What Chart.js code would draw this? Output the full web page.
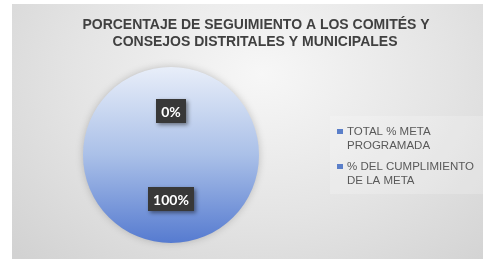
<!DOCTYPE html>
<html>
<head>
<meta charset="utf-8">
<script src="https://cdn.jsdelivr.net/npm/chart.js@4.4.1/dist/chart.umd.min.js"></script>
<style>
  html, body { margin: 0; padding: 0; background: #fff; }
  #wrap {
    position: absolute; left: 12px; top: 4px; width: 471px; height: 255px;
    background: radial-gradient(ellipse 340px 260px at 250px 70px, #f7f7f7 0%, #e4e4e4 55%, #d2d2d2 100%);
  }
  canvas { display: block; }
</style>
</head>
<body>
<div id="wrap"><canvas id="pieChart" width="471" height="255"></canvas></div>
<script>
// ---- data ----
const titleLines = ['PORCENTAJE DE SEGUIMIENTO A LOS COMITÉS Y', 'CONSEJOS DISTRITALES Y MUNICIPALES'];
const categories = ['TOTAL % META PROGRAMADA', '% DEL CUMPLIMIENTO DE LA META'];
const legendLines = [['TOTAL % META', 'PROGRAMADA'], ['% DEL CUMPLIMIENTO', 'DE LA META']];
const values = [0, 100];
const valueLabels = ['0%', '100%'];

const blue = '#5b7fc9';

function pieFill(ctx) {
  const chart = ctx.chart;
  const area = chart.chartArea;
  if (!area) return blue;
  const g = chart.ctx.createLinearGradient(0, area.top, 0, area.bottom);
  g.addColorStop(0, '#e8eef9');
  g.addColorStop(0.5, '#aac0e8');
  g.addColorStop(1, '#567bd0');
  return g;
}

// title, legend and data label boxes drawn on the canvas
const decorations = {
  id: 'decorations',
  beforeDatasetsDraw(chart) {
    const c = chart.ctx;
    const arc = chart.getDatasetMeta(0).data[1];
    c.save();
    c.shadowColor = 'rgba(0,0,0,0.25)';
    c.shadowBlur = 8;
    c.beginPath();
    c.arc(arc.x, arc.y, arc.outerRadius - 1, 0, Math.PI * 2);
    c.fillStyle = '#a8bde6';
    c.fill();
    c.restore();
  },
  afterDraw(chart) {
    const c = chart.ctx;
    c.save();
    // title
    c.fillStyle = '#404040';
    c.font = 'bold 14px "Liberation Sans", Arial, sans-serif';
    c.textAlign = 'center';
    c.textBaseline = 'middle';
    c.fillText(titleLines[0], 244, 21);
    c.fillText(titleLines[1], 243, 38);

    // legend
    c.fillStyle = 'rgba(255,255,255,0.2)';
    c.fillRect(318, 112, 153, 78);
    c.font = '11.5px "Liberation Sans", Arial, sans-serif';
    c.textAlign = 'left';
    const rows = [[127, 141], [162, 176]];
    legendLines.forEach((lines, i) => {
      c.fillStyle = blue;
      c.fillRect(325, rows[i][0] - 2, 6, 5);
      c.fillStyle = '#595959';
      lines.forEach((t, j) => c.fillText(t, 335, rows[i][j] + 0.5));
    });

    // data labels
    const meta = chart.getDatasetMeta(0);
    c.font = 'bold 14px Lato, "Open Sans", sans-serif';
    c.textAlign = 'center';
    meta.data.forEach((el, i) => {
      const p = el.tooltipPosition();
      const w = c.measureText(valueLabels[i]).width + 10;
      const h = 24;
      c.save();
      c.shadowColor = 'rgba(0,0,0,0.45)';
      c.shadowBlur = 4;
      c.shadowOffsetX = 2;
      c.shadowOffsetY = 2;
      c.fillStyle = '#383838';
      c.fillRect(Math.round(p.x - w / 2), Math.round(p.y - h / 2), Math.round(w), h);
      c.restore();
      c.fillStyle = '#ffffff';
      c.fillText(valueLabels[i], p.x, p.y + 1);
    });
    c.restore();
  }
};

new Chart(document.getElementById('pieChart'), {
  type: 'pie',
  data: {
    labels: categories,
    datasets: [{
      data: values,
      backgroundColor: pieFill,
      borderWidth: 0,
    }],
  },
  options: {
    responsive: false,
    animation: false,
    layout: { padding: { left: 71, right: 224, top: 63, bottom: 16 } },
    plugins: {
      legend: { display: false },
      title: { display: false },
      tooltip: { enabled: false },
    },
  },
  plugins: [decorations],
});
</script>
</body>
</html>
